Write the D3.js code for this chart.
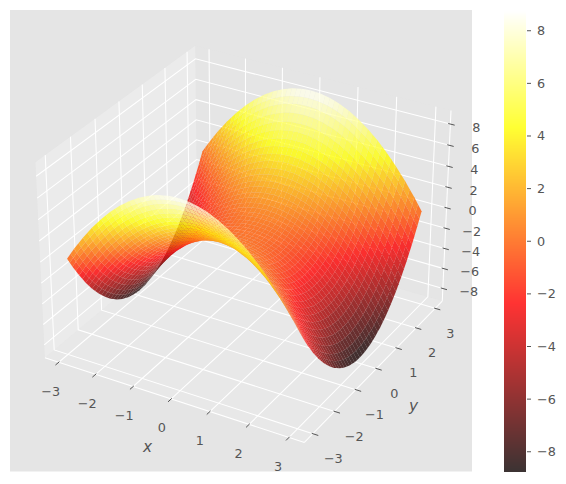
<!DOCTYPE html>
<html><head><meta charset="utf-8">
<script src="https://cdn.jsdelivr.net/npm/d3@7/dist/d3.min.js"></script>
<style>html,body{margin:0;padding:0;background:#fff}svg{display:block}text{font-family:"DejaVu Sans";fill:#555555}</style>
</head><body><div id="c"></div>
<script>
const xValues=[-2.95,-2.75,-2.5,-2.25,-2,-1.75,-1.5,-1.25,-1,-0.75,-0.5,-0.25,0,0.25,0.5,0.75,1,1.25,1.5,1.75,2,2.25,2.5,2.75,2.95];
const yValues=xValues.slice();
const zValues=[
[0,1.14,2.45,3.64,4.7,5.64,6.45,7.14,7.7,8.14,8.45,8.64,8.7,8.64,8.45,8.14,7.7,7.14,6.45,5.64,4.7,3.64,2.45,1.14,0],
[-1.14,0,1.31,2.5,3.56,4.5,5.31,6,6.56,7,7.31,7.5,7.56,7.5,7.31,7,6.56,6,5.31,4.5,3.56,2.5,1.31,0,-1.14],
[-2.45,-1.31,0,1.19,2.25,3.19,4,4.69,5.25,5.69,6,6.19,6.25,6.19,6,5.69,5.25,4.69,4,3.19,2.25,1.19,0,-1.31,-2.45],
[-3.64,-2.5,-1.19,0,1.06,2,2.81,3.5,4.06,4.5,4.81,5,5.06,5,4.81,4.5,4.06,3.5,2.81,2,1.06,0,-1.19,-2.5,-3.64],
[-4.7,-3.56,-2.25,-1.06,0,0.94,1.75,2.44,3,3.44,3.75,3.94,4,3.94,3.75,3.44,3,2.44,1.75,0.94,0,-1.06,-2.25,-3.56,-4.7],
[-5.64,-4.5,-3.19,-2,-0.94,0,0.81,1.5,2.06,2.5,2.81,3,3.06,3,2.81,2.5,2.06,1.5,0.81,0,-0.94,-2,-3.19,-4.5,-5.64],
[-6.45,-5.31,-4,-2.81,-1.75,-0.81,0,0.69,1.25,1.69,2,2.19,2.25,2.19,2,1.69,1.25,0.69,0,-0.81,-1.75,-2.81,-4,-5.31,-6.45],
[-7.14,-6,-4.69,-3.5,-2.44,-1.5,-0.69,0,0.56,1,1.31,1.5,1.56,1.5,1.31,1,0.56,0,-0.69,-1.5,-2.44,-3.5,-4.69,-6,-7.14],
[-7.7,-6.56,-5.25,-4.06,-3,-2.06,-1.25,-0.56,0,0.44,0.75,0.94,1,0.94,0.75,0.44,0,-0.56,-1.25,-2.06,-3,-4.06,-5.25,-6.56,-7.7],
[-8.14,-7,-5.69,-4.5,-3.44,-2.5,-1.69,-1,-0.44,0,0.31,0.5,0.56,0.5,0.31,0,-0.44,-1,-1.69,-2.5,-3.44,-4.5,-5.69,-7,-8.14],
[-8.45,-7.31,-6,-4.81,-3.75,-2.81,-2,-1.31,-0.75,-0.31,0,0.19,0.25,0.19,0,-0.31,-0.75,-1.31,-2,-2.81,-3.75,-4.81,-6,-7.31,-8.45],
[-8.64,-7.5,-6.19,-5,-3.94,-3,-2.19,-1.5,-0.94,-0.5,-0.19,0,0.06,0,-0.19,-0.5,-0.94,-1.5,-2.19,-3,-3.94,-5,-6.19,-7.5,-8.64],
[-8.7,-7.56,-6.25,-5.06,-4,-3.06,-2.25,-1.56,-1,-0.56,-0.25,-0.06,0,-0.06,-0.25,-0.56,-1,-1.56,-2.25,-3.06,-4,-5.06,-6.25,-7.56,-8.7],
[-8.64,-7.5,-6.19,-5,-3.94,-3,-2.19,-1.5,-0.94,-0.5,-0.19,0,0.06,0,-0.19,-0.5,-0.94,-1.5,-2.19,-3,-3.94,-5,-6.19,-7.5,-8.64],
[-8.45,-7.31,-6,-4.81,-3.75,-2.81,-2,-1.31,-0.75,-0.31,0,0.19,0.25,0.19,0,-0.31,-0.75,-1.31,-2,-2.81,-3.75,-4.81,-6,-7.31,-8.45],
[-8.14,-7,-5.69,-4.5,-3.44,-2.5,-1.69,-1,-0.44,0,0.31,0.5,0.56,0.5,0.31,0,-0.44,-1,-1.69,-2.5,-3.44,-4.5,-5.69,-7,-8.14],
[-7.7,-6.56,-5.25,-4.06,-3,-2.06,-1.25,-0.56,0,0.44,0.75,0.94,1,0.94,0.75,0.44,0,-0.56,-1.25,-2.06,-3,-4.06,-5.25,-6.56,-7.7],
[-7.14,-6,-4.69,-3.5,-2.44,-1.5,-0.69,0,0.56,1,1.31,1.5,1.56,1.5,1.31,1,0.56,0,-0.69,-1.5,-2.44,-3.5,-4.69,-6,-7.14],
[-6.45,-5.31,-4,-2.81,-1.75,-0.81,0,0.69,1.25,1.69,2,2.19,2.25,2.19,2,1.69,1.25,0.69,0,-0.81,-1.75,-2.81,-4,-5.31,-6.45],
[-5.64,-4.5,-3.19,-2,-0.94,0,0.81,1.5,2.06,2.5,2.81,3,3.06,3,2.81,2.5,2.06,1.5,0.81,0,-0.94,-2,-3.19,-4.5,-5.64],
[-4.7,-3.56,-2.25,-1.06,0,0.94,1.75,2.44,3,3.44,3.75,3.94,4,3.94,3.75,3.44,3,2.44,1.75,0.94,0,-1.06,-2.25,-3.56,-4.7],
[-3.64,-2.5,-1.19,0,1.06,2,2.81,3.5,4.06,4.5,4.81,5,5.06,5,4.81,4.5,4.06,3.5,2.81,2,1.06,0,-1.19,-2.5,-3.64],
[-2.45,-1.31,0,1.19,2.25,3.19,4,4.69,5.25,5.69,6,6.19,6.25,6.19,6,5.69,5.25,4.69,4,3.19,2.25,1.19,0,-1.31,-2.45],
[-1.14,0,1.31,2.5,3.56,4.5,5.31,6,6.56,7,7.31,7.5,7.56,7.5,7.31,7,6.56,6,5.31,4.5,3.56,2.5,1.31,0,-1.14],
[0,1.14,2.45,3.64,4.7,5.64,6.45,7.14,7.7,8.14,8.45,8.64,8.7,8.64,8.45,8.14,7.7,7.14,6.45,5.64,4.7,3.64,2.45,1.14,0]
];
const xTicks=[-3,-2,-1,0,1,2,3];
const yTicks=[-3,-2,-1,0,1,2,3];
const zTicks=[-8,-6,-4,-2,0,2,4,6,8];
const barTicks=[-8,-6,-4,-2,0,2,4,6,8];
const hotStops=[0,0.365079,0.746032,1];
const hotColors=["#0b0000","#ff0000","#ffff00","#ffffff"];

const W=566,H=484;
const fmt=v=>String(v).replace("-","\u2212");
const svg=d3.select("#c").append("svg").attr("width",W).attr("height",H);
svg.append("rect").attr("width",W).attr("height",H).attr("fill","#fff");
const ax={l:10,t:10,r:472,b:471.5};
svg.append("rect").attr("x",ax.l).attr("y",ax.t).attr("width",ax.r-ax.l).attr("height",ax.b-ax.t).attr("fill","#E5E5E5");

const zMin=-8.75,zMax=8.75;
const xlim=[-3.245,3.245],ylim=[-3.245,3.245],zlim=[-8.9,8.9];
const norm=Math.hypot(4,4,3),k=1.8294640721620434/norm;
const asp=[4*k,4*k,3*k],dist=10,el=30*Math.PI/180,az=-60*Math.PI/180;
const R=asp.map(a=>a/2);
const pdir=[Math.cos(el)*Math.cos(az),Math.cos(el)*Math.sin(az),Math.sin(el)];
const E=R.map((r,i)=>r+dist*pdir[i]);
const nrm=a=>{const n=Math.hypot(...a);return a.map(v=>v/n)};
const cross=(a,b)=>[a[1]*b[2]-a[2]*b[1],a[2]*b[0]-a[0]*b[2],a[0]*b[1]-a[1]*b[0]];
const dot=(a,b)=>a[0]*b[0]+a[1]*b[1]+a[2]*b[2];
const w=nrm(pdir),u=nrm(cross([0,0,1],w)),v=cross(w,u);
const wx=d3.scaleLinear().domain(xlim).range([0,asp[0]]);
const wy=d3.scaleLinear().domain(ylim).range([0,asp[1]]);
const wz=d3.scaleLinear().domain(zlim).range([0,asp[2]]);
const sx=d3.scaleLinear().domain([-0.095,0.09]).range([ax.l,ax.r]);
const sy=d3.scaleLinear().domain([-0.095,0.09]).range([ax.b,ax.t]);
function proj(x,y,z){
  const P=[wx(x),wy(y),wz(z)],d=[P[0]-E[0],P[1]-E[1],P[2]-E[2]];
  const zv=dot(w,d);
  return {px:sx(dot(u,d)/-zv),py:sy(dot(v,d)/-zv),depth:-zv};
}
const pt=(x,y,z)=>{const p=proj(x,y,z);return [p.px,p.py]};
const line=d3.line();

const dx=(xlim[1]-xlim[0])/12,dy=(ylim[1]-ylim[0])/12,dz=(zlim[1]-zlim[0])/12;
const X0=xlim[0]-dx/4,X1=xlim[1]+dx/4,Y0=ylim[0]-dy/4,Y1=ylim[1]+dy/4,Z0=zlim[0]-dz/4,Z1=zlim[1]+dz/4;

// panes
const panes=[
 {c:"rgba(242,242,242,0.5)",p:[[X0,Y0,Z0],[X0,Y1,Z0],[X0,Y1,Z1],[X0,Y0,Z1]]},
 {c:"rgba(230,230,230,0.5)",p:[[X0,Y1,Z0],[X1,Y1,Z0],[X1,Y1,Z1],[X0,Y1,Z1]]},
 {c:"rgba(236,236,236,0.5)",p:[[X0,Y0,Z0],[X1,Y0,Z0],[X1,Y1,Z0],[X0,Y1,Z0]]}
];
svg.append("g").selectAll("polygon").data(panes).join("polygon")
  .attr("points",d=>d.p.map(q=>pt(...q).join(",")).join(" ")).attr("fill",d=>d.c);

// grid
const gridLines=[];
xTicks.forEach(t=>gridLines.push([[t,Y0,Z0],[t,Y1,Z0],[t,Y1,Z1]]));
yTicks.forEach(t=>gridLines.push([[X1,t,Z0],[X0,t,Z0],[X0,t,Z1]]));
zTicks.forEach(t=>gridLines.push([[X0,Y0,t],[X0,Y1,t],[X1,Y1,t]]));
gridLines.push([[X0,Y0,Z0],[X1,Y0,Z0]],[[X1,Y0,Z0],[X1,Y1,Z0]],[[X1,Y1,Z0],[X1,Y1,Z1]]);
svg.append("g").selectAll("path").data(gridLines).join("path")
  .attr("d",d=>line(d.map(q=>pt(...q)))).attr("fill","none").attr("stroke","#fff").attr("stroke-width",1.05);

// ticks
const tickOut=0.25,tickIn=0.05;
const ticks=[];
const labels=[];
xTicks.forEach(t=>{ticks.push([[t,Y0-dy*tickOut,Z0],[t,Y0+dy*tickIn,Z0]]);
  const p=pt(t,Y0,Z0);labels.push({s:fmt(t),x:p[0]-8-(t+3)*0.5,y:p[1]+29});});
yTicks.forEach(t=>{ticks.push([[X1+dx*tickOut,t,Z0],[X1-dx*tickIn,t,Z0]]);
  const p=pt(X1,t,Z0);labels.push({s:fmt(t),x:p[0]+20.5-(t+3)*0.9,y:p[1]+25});});
zTicks.forEach(t=>{ticks.push([[X1+dx*0.2,Y1,t],[X1-dx*0.1,Y1,t]]);
  const p=pt(X1,Y1,t);labels.push({s:fmt(t),x:p[0]+26,y:p[1]+3});});
svg.append("g").selectAll("path").data(ticks).join("path")
  .attr("d",d=>line(d.map(q=>pt(...q)))).attr("stroke","#555555").attr("stroke-width",1);
svg.append("g").selectAll("text").data(labels).join("text")
  .attr("x",d=>d.x).attr("y",d=>d.y).attr("text-anchor","middle").attr("dominant-baseline","central")
  .attr("font-size",12.8).text(d=>d.s);
svg.append("text").attr("x",147.5).attr("y",447).attr("text-anchor","middle").attr("dominant-baseline","central")
  .attr("font-size",15.4).attr("font-style","italic").text("x");
svg.append("text").attr("x",413.5).attr("y",406).attr("text-anchor","middle").attr("dominant-baseline","central")
  .attr("font-size",15.4).attr("font-style","italic").text("y");

// colour map
const hot=d3.scaleLinear().domain(hotStops).range(hotColors).clamp(true);
const cnorm=d3.scaleLinear().domain([zMin,zMax]).range([0,1]);

// surface: each measured cell is shaded in two steps per side
const sub=2,cells=[];
for(let i=0;i<yValues.length-1;i++)for(let j=0;j<xValues.length-1;j++){
  const at=(a,b)=>{
    const y=yValues[i]+(yValues[i+1]-yValues[i])*a,x=xValues[j]+(xValues[j+1]-xValues[j])*b;
    const z=(1-a)*(1-b)*zValues[i][j]+(1-a)*b*zValues[i][j+1]+a*(1-b)*zValues[i+1][j]+a*b*zValues[i+1][j+1];
    return {x,y,z};
  };
  for(let a=0;a<sub;a++)for(let b=0;b<sub;b++){
    const c=[at(a/sub,b/sub),at(a/sub,(b+1)/sub),at((a+1)/sub,(b+1)/sub),at((a+1)/sub,b/sub)];
    const pr=c.map(q=>proj(q.x,q.y,q.z));
    cells.push({pts:pr.map(p=>p.px.toFixed(2)+","+p.py.toFixed(2)).join(" "),
      depth:d3.mean(pr,p=>p.depth),z:d3.mean(c,q=>q.z)});
  }
}
cells.sort((a,b)=>b.depth-a.depth);
svg.append("g").selectAll("polygon").data(cells).join("polygon")
  .attr("points",d=>d.pts).attr("fill",d=>hot(cnorm(d.z))).attr("fill-opacity",0.8);

// colour bar
const bar={l:504,r:526,t:11,b:471.5};
const by=d3.scaleLinear().domain([zMin,zMax]).range([bar.b,bar.t]);
const rows=d3.range(bar.t,Math.floor(bar.b)+1);
svg.append("g").attr("shape-rendering","crispEdges").selectAll("rect").data(rows).join("rect")
  .attr("x",bar.l).attr("width",bar.r-bar.l).attr("y",d=>d).attr("height",1)
  .attr("fill",d=>hot(cnorm(by.invert(d+0.5)))).attr("fill-opacity",0.8);
const bt=svg.append("g").selectAll("g").data(barTicks).join("g");
bt.append("line").attr("x1",bar.r+1).attr("x2",bar.r+5).attr("y1",d=>by(d)).attr("y2",d=>by(d)).attr("stroke","#555555").attr("stroke-width",1);
bt.append("text").attr("x",537).attr("y",d=>by(d)).attr("dominant-baseline","central").attr("font-size",12.8).text(d=>fmt(d));
</script></body></html>
